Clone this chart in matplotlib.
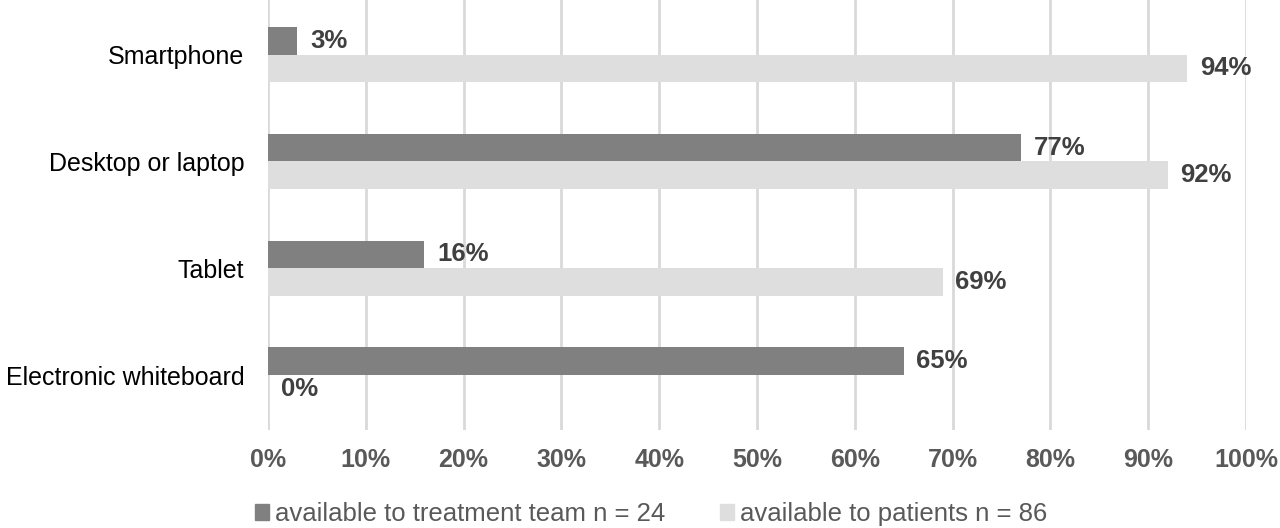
import numpy as np
import matplotlib.pyplot as plt
from matplotlib.patches import Patch

# data
categories = ["Smartphone", "Desktop or laptop", "Tablet", "Electronic whiteboard"]
team = [3, 77, 16, 65]
patients = [94, 92, 69, 0]
team_label = "available to treatment team n = 24"
patients_label = "available to patients n = 86"

dark = "#808080"
light = "#dedede"
grid_col = "#d9d9d9"

plt.rcParams["font.family"] = ["Liberation Sans", "DejaVu Sans"]

fig = plt.figure(figsize=(12.8, 5.28), dpi=100)
ax = fig.add_axes([0.2094, 0.186, 0.764, 0.814])

y = np.arange(len(categories))
h = 0.26

b1 = ax.barh(y - h / 2, team, height=h, color=dark, zorder=3)
b2 = ax.barh(y + h / 2, patients, height=h, color=light, zorder=3)

label_style = dict(fontsize=18.5, fontweight="bold", color="#404040", padding=9)
ax.bar_label(b1, labels=[f"{v}%" for v in team], **label_style)
ax.bar_label(b2, labels=[f"{v}%" for v in patients], **label_style)

ax.set_xlim(0, 100)
ax.set_ylim(3.51, -0.51)
ax.set_xticks(np.arange(0, 101, 10))
ax.set_xticklabels([f"{v}%" for v in range(0, 101, 10)],
                   fontsize=18, fontweight="bold", color="#595959")
ax.set_yticks(y)
ax.set_yticklabels(categories, fontsize=18, color="black")
ax.tick_params(axis="x", length=0, pad=13)
ax.tick_params(axis="y", length=0, pad=17)

ax.grid(axis="x", color=grid_col, linewidth=2, zorder=0)
for s in ax.spines.values():
    s.set_visible(False)

handles = [Patch(color=dark), Patch(color=light)]
fig.legend(handles, [team_label, patients_label], loc="lower left",
           bbox_to_anchor=(0.181, -0.04), ncol=2, frameon=False,
           fontsize=18.5, labelcolor="#595959", handlelength=0.55,
           handleheight=0.55, handletextpad=0.25, columnspacing=2.1)

fig.savefig("out.png", dpi=100)
